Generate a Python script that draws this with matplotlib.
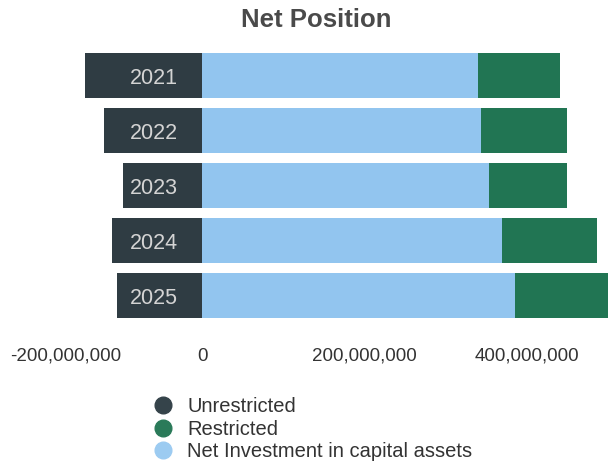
import matplotlib
matplotlib.use("Agg")
import matplotlib.pyplot as plt
import matplotlib.transforms as mtransforms
from matplotlib.lines import Line2D
from matplotlib.ticker import FuncFormatter
import numpy as np

# Net position components by fiscal year (dollars)
years = ["2021", "2022", "2023", "2024", "2025"]
unrestricted = [-144e6, -121e6, -97e6, -111e6, -105e6]
net_investment = [340e6, 343e6, 354e6, 369e6, 386e6]
restricted = [101e6, 106e6, 95e6, 117e6, 120e6]
x_ticks = [-200e6, 0, 200e6, 400e6]

DARK = "#2f3c43"
BLUE = "#92c5ef"
GREEN = "#217553"

plt.rcParams["font.family"] = ["Liberation Sans", "DejaVu Sans"]

fig = plt.figure(figsize=(6.08, 4.61), dpi=100)
ax = fig.add_axes([0, 1 - 334 / 461, 1, (334 - 40) / 461])
ax.set_axisbelow(False)

y = np.arange(len(years))
h = 0.82
ax.barh(y, unrestricted, height=h, color=DARK, zorder=1)
ax.barh(y, net_investment, height=h, color=BLUE, zorder=1)
ax.barh(y, restricted, left=net_investment, height=h, color=GREEN, zorder=1)

ax.set_xlim(-249e6, 500e6)
ax.set_ylim(4.7, -0.65)

for s in ax.spines.values():
    s.set_visible(False)

# Year labels sit inside the dark segment
ax.set_yticks(y, years)
ax.tick_params(axis="y", length=0, pad=-128, labelsize=15.5, labelcolor="#d4d4d4")

ax.set_xticks(x_ticks)
ax.xaxis.set_major_formatter(FuncFormatter(lambda v, p: f"{v:,.0f}"))
ax.tick_params(axis="x", length=0, pad=10, labelsize=13.5, labelcolor="#333333")
first = ax.get_xticklabels()[0]
first.set_transform(first.get_transform()
                    + mtransforms.ScaledTranslation(0.26, 0, fig.dpi_scale_trans))

fig.text(0.52, 1 - 20 / 461, "Net Position", ha="center", va="center",
         fontsize=18.5, fontweight="bold", color="#4a4a4a")

handles = [
    Line2D([], [], marker="o", linestyle="none", markersize=12,
           markerfacecolor=c, markeredgecolor=c)
    for c in ["#35434a", "#2a7a59", "#9ccbf1"]
]
fig.legend(handles, ["Unrestricted", "Restricted", "Net Investment in capital assets"],
           loc="upper left", bbox_to_anchor=(143 / 608, 1 - 387 / 461),
           frameon=False, fontsize=14.5, labelspacing=0.18, handletextpad=0.7,
           borderpad=0, handlelength=1.0, labelcolor="#333333")

fig.savefig("out.png", dpi=100)
